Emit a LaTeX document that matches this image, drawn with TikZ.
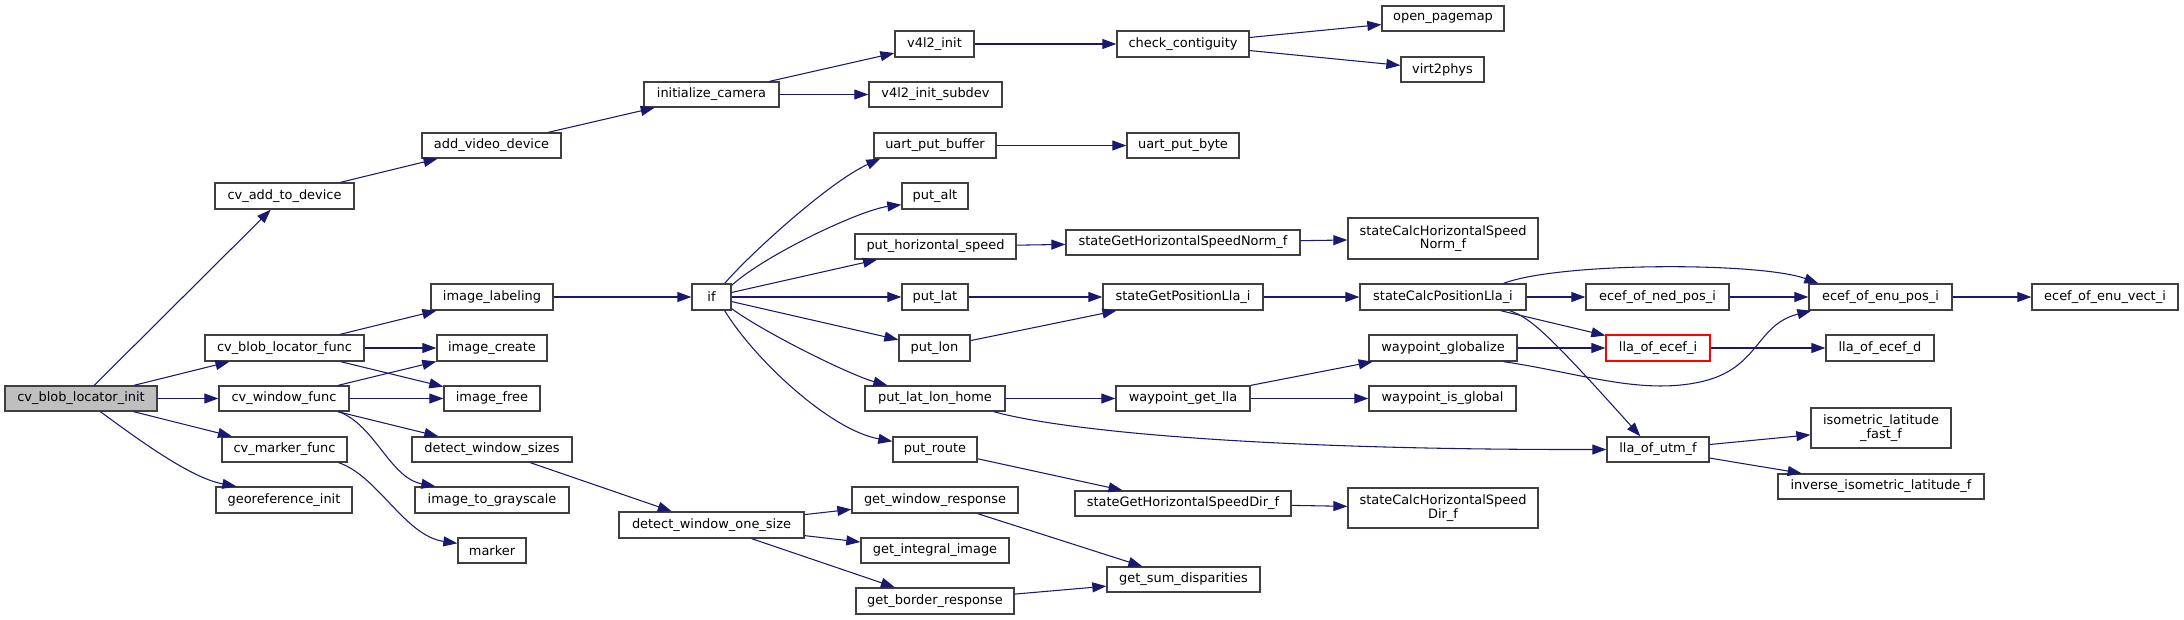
\documentclass[tikz,border=0pt]{standalone}
\usepackage{fontspec}
\setmainfont{DejaVu Sans}
\usetikzlibrary{arrows.meta,calc}
\definecolor{edgec}{HTML}{191970}
\definecolor{bordc}{HTML}{404040}
\definecolor{rootc}{HTML}{BFBFBF}
\tikzset{
 box/.style={draw=bordc, line width=1pt, fill=white, inner sep=0pt, font=\fontsize{9.7}{10.2}\selectfont, align=center},
 edge/.style={draw=edgec, line width=0.8pt, -{Triangle[length=10.5pt,width=7.5pt]}},
}
\newcommand\gnode[7][]{\node[box,#1, minimum width={(#5-#3)*0.75pt}, minimum height={(#6-#4)*0.75pt}] (#2) at ({(#3+#5)/2},{(#4+#6)/2}) {#7};}
\begin{document}
\begin{tikzpicture}[x=0.75pt,y=-0.75pt]
\useasboundingbox (0,0) rectangle (2184,620);
\gnode[fill=rootc]{root}{5}{386}{157}{411}{cv\_blob\_locator\_init}
\gnode{cvadd}{215}{183}{354}{209}{cv\_add\_to\_device}
\gnode{addvid}{422}{133}{561}{158}{add\_video\_device}
\gnode{initcam}{644}{82}{779}{107}{initialize\_camera}
\gnode{v4l2init}{895}{31}{974}{57}{v4l2\_init}
\gnode{v4l2sub}{869}{82}{1002}{107}{v4l2\_init\_subdev}
\gnode{checkc}{1117}{31}{1249}{57}{check\_contiguity}
\gnode{openpm}{1382}{6}{1504}{31}{open\_pagemap}
\gnode{virt}{1401}{57}{1484}{82}{virt2phys}
\gnode{cvblobf}{205}{335}{364}{361}{cv\_blob\_locator\_func}
\gnode{imglab}{431}{284}{553}{310}{image\_labeling}
\gnode{imgcreate}{437}{335}{547}{361}{image\_create}
\gnode{imgfree}{444}{386}{540}{411}{image\_free}
\gnode{cvwin}{219}{386}{349}{411}{cv\_window\_func}
\gnode{cvmark}{222}{437}{347}{462}{cv\_marker\_func}
\gnode{dws}{412}{437}{572}{462}{detect\_window\_sizes}
\gnode{georef}{216}{487}{352}{513}{georeference\_init}
\gnode{img2g}{415}{487}{569}{513}{image\_to\_grayscale}
\gnode{marker}{458}{538}{526}{563}{marker}
\gnode{dwos}{619}{512}{804}{538}{detect\_window\_one\_size}
\gnode{ifn}{692}{284}{731}{310}{if}
\gnode{uartbuf}{874}{133}{996}{158}{uart\_put\_buffer}
\gnode{uartbyte}{1127}{133}{1239}{158}{uart\_put\_byte}
\gnode{putalt}{902}{183}{968}{209}{put\_alt}
\gnode{puths}{855}{234}{1016}{259}{put\_horizontal\_speed}
\gnode{sghsn}{1066}{230}{1300}{255}{stateGetHorizontalSpeedNorm\_f}
\gnode{sChsn}{1348}{218}{1538}{259}{stateCalcHorizontalSpeed\\Norm\_f}
\gnode{putlat}{902}{284}{968}{310}{put\_lat}
\gnode{sgpl}{1103}{284}{1263}{310}{stateGetPositionLla\_i}
\gnode{scpl}{1360}{284}{1526}{310}{stateCalcPositionLla\_i}
\gnode{ecefned}{1586}{284}{1729}{310}{ecef\_of\_ned\_pos\_i}
\gnode{ecefenu}{1809}{284}{1952}{310}{ecef\_of\_enu\_pos\_i}
\gnode{ecefvect}{2032}{284}{2178}{310}{ecef\_of\_enu\_vect\_i}
\gnode{putlon}{899}{335}{970}{361}{put\_lon}
\gnode{wpglob}{1369}{335}{1517}{361}{waypoint\_globalize}
\gnode[draw=red]{llaecefi}{1606}{335}{1710}{361}{lla\_of\_ecef\_i}
\gnode{llaecefd}{1826}{335}{1934}{361}{lla\_of\_ecef\_d}
\gnode{putllh}{865}{386}{1005}{411}{put\_lat\_lon\_home}
\gnode{wpgetlla}{1116}{386}{1250}{411}{waypoint\_get\_lla}
\gnode{wpisg}{1369}{386}{1516}{411}{waypoint\_is\_global}
\gnode{isolat}{1811}{408}{1951}{448}{isometric\_latitude\\\_fast\_f}
\gnode{llautm}{1607}{437}{1709}{462}{lla\_of\_utm\_f}
\gnode{invisolat}{1778}{474}{1984}{499}{inverse\_isometric\_latitude\_f}
\gnode{putroute}{893}{437}{977}{462}{put\_route}
\gnode{sghsd}{1075}{491}{1291}{516}{stateGetHorizontalSpeedDir\_f}
\gnode{sChsd}{1348}{488}{1538}{528}{stateCalcHorizontalSpeed\\Dir\_f}
\gnode{gwr}{852}{487}{1018}{513}{get\_window\_response}
\gnode{gii}{861}{538}{1009}{563}{get\_integral\_image}
\gnode{gsd}{1107}{567}{1260}{592}{get\_sum\_disparities}
\gnode{gbr}{856}{588}{1014}{614}{get\_border\_response}
% straight edges
\foreach \a/\b in {root/cvadd, root/cvblobf, root/cvwin, root/cvmark,
  cvadd/addvid, addvid/initcam, initcam/v4l2init, initcam/v4l2sub, v4l2init/checkc,
  checkc/openpm, checkc/virt, cvblobf/imglab, cvblobf/imgcreate, cvblobf/imgfree,
  cvwin/imgcreate, cvwin/imgfree, cvwin/dws, imglab/ifn, dws/dwos,
  dwos/gwr, dwos/gii, dwos/gbr, gwr/gsd, gbr/gsd,
  ifn/puths, ifn/putlat, ifn/putlon, uartbuf/uartbyte, puths/sghsn, sghsn/sChsn,
  putlat/sgpl, putlon/sgpl, sgpl/scpl, scpl/ecefned, scpl/llaecefi, ecefned/ecefenu,
  ecefenu/ecefvect, putllh/wpgetlla, wpgetlla/wpglob, wpgetlla/wpisg, wpglob/llaecefi,
  llaecefi/llaecefd, llautm/isolat, llautm/invisolat, putroute/sghsd, sghsd/sChsd}
  \draw[edge] (\a) -- (\b);
% curved edges
\draw[edge] ($(root.south west)+(96,0)$) .. controls (135,437) and (190,478) .. ($(georef.north west)+(21,0)$);
\draw[edge] ($(cvwin.south east)+(-11,0)$) .. controls (375,425) and (390,478) .. ($(img2g.north west)+(21,0)$);
\draw[edge] ($(cvmark.south east)+(-9,0)$) .. controls (378,476) and (405,536) .. ($(marker.north west)+(0,6)$);
\draw[edge] ($(ifn.north east)+(-7,0)$) .. controls (750,254) and (829,182) .. ($(uartbuf.south west)+(7,0)$);
\draw[edge] ($(ifn.north east)+(0,2)$) .. controls (765,255) and (860,210) .. ($(putalt.south west)+(0,-5)$);
\draw[edge] ($(ifn.south east)+(0,-2)$) .. controls (765,333) and (850,375) .. ($(putllh.north west)+(23,0)$);
\draw[edge] ($(ifn.south east)+(-7,0)$) .. controls (755,360) and (830,430) .. ($(putroute.north west)+(0,5)$);
\draw[edge] ($(putllh.south east)+(-12,0)$) .. controls (1060,430) and (1250,450) .. (llautm.west);
\draw[edge] ($(scpl.north east)+(-23,0)$) .. controls (1560,262) and (1760,262) .. ($(ecefenu.north west)+(10,0)$);
\draw[edge] ($(scpl.south east)+(-17,0)$) .. controls (1530,318) and (1545,330) .. ($(llautm.north west)+(34,0)$);
\draw[edge] ($(wpglob.south east)+(-14,0)$) .. controls (1580,373) and (1640,395) .. (1700,382) .. controls (1760,369) and (1755,325) .. ($(ecefenu.south west)+(3,0)$);
\end{tikzpicture}
\end{document}
